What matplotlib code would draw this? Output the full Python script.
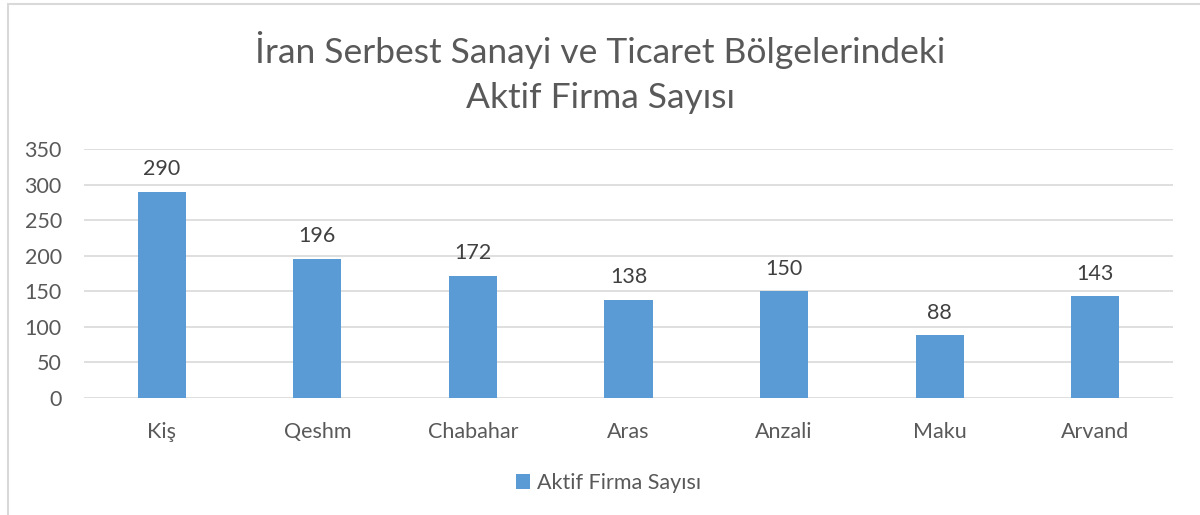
import matplotlib
matplotlib.use("Agg")
import matplotlib.pyplot as plt
from matplotlib.patches import Rectangle

categories = ["Kiş", "Qeshm", "Chabahar", "Aras", "Anzali", "Maku", "Arvand"]
values = [290, 196, 172, 138, 150, 88, 143]
series_name = "Aktif Firma Sayısı"
title_text = "İran Serbest Sanayi ve Ticaret Bölgelerindeki\nAktif Firma Sayısı"

plt.rcParams['font.family'] = ['Lato', 'DejaVu Sans']

fig = plt.figure(figsize=(12, 5.15), dpi=100)
ax = fig.add_axes([0.07, 0.2272, 0.9075, 0.4835])

x = range(len(categories))
bars = ax.bar(x, values, width=0.31, color="#5B9BD5", label=series_name, zorder=3)
for xi, v in zip(x, values):
    ax.annotate(str(v), (xi, v), xytext=(0, 9), textcoords="offset points",
                ha="center", va="bottom", fontsize=15.5, color="#404040")

ax.set_xlim(-0.5, len(categories) - 0.5)
ax.set_ylim(0, 350)
ax.set_yticks(range(0, 351, 50))
ax.set_xticks(list(x))
ax.set_xticklabels(categories)
ax.tick_params(axis="both", length=0, labelsize=15.5, colors="#595959")
ax.tick_params(axis="x", pad=17)
ax.tick_params(axis="y", pad=16)
for lbl in ax.get_yticklabels():
    lbl.set_horizontalalignment("right")
ax.grid(axis="y", color="#D9D9D9", linewidth=1.2, zorder=0)
for s in ax.spines.values():
    s.set_visible(False)

fig.suptitle(title_text, y=0.94, fontsize=25.5, color="#595959", linespacing=1.5)

leg = fig.legend(loc="center", bbox_to_anchor=(0.507, 0.062), frameon=False,
                 fontsize=15.5, handlelength=0.65, handleheight=0.65, handletextpad=0.3)
for t in leg.get_texts():
    t.set_color("#595959")

border = Rectangle((8 / 1200, -0.01), 1.1, 1 - 4 / 515 + 0.01, transform=fig.transFigure,
                   fill=False, edgecolor="#D9D9D9", linewidth=1.5)
fig.add_artist(border)

fig.savefig("out.png", dpi=100)
